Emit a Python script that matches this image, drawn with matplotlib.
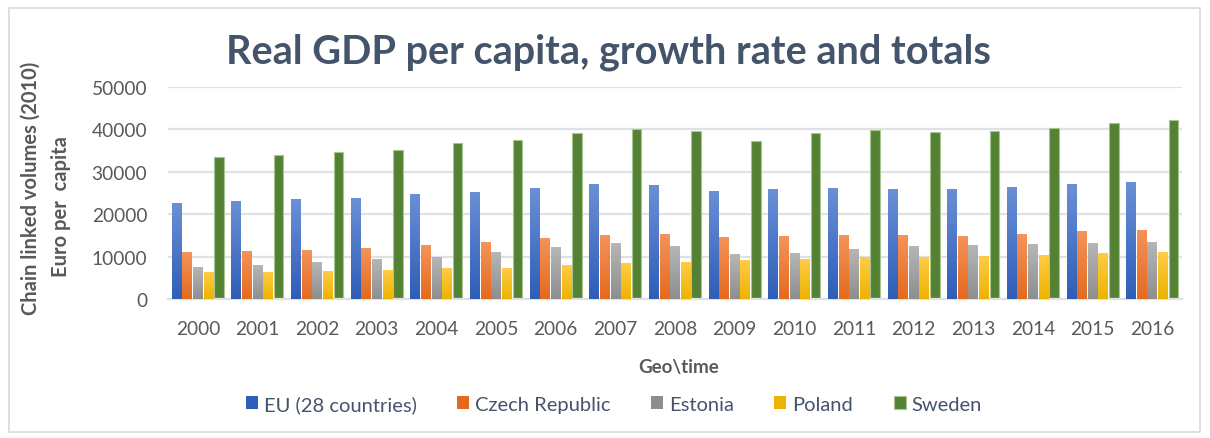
import matplotlib
matplotlib.use("Agg")
import matplotlib.pyplot as plt
import numpy as np
from matplotlib.patches import FancyBboxPatch
from matplotlib.colors import LinearSegmentedColormap

plt.rcParams['font.family'] = ['Lato', 'DejaVu Sans']

years = [str(y) for y in range(2000, 2017)]
eu = [22600, 23000, 23500, 23750, 24700, 25150, 26100, 27050, 26800, 25400,
      25850, 26100, 25850, 25850, 26350, 27050, 27500]
czech = [11050, 11300, 11500, 12000, 12700, 13400, 14350, 15050, 15300, 14600,
         14800, 15050, 15050, 14800, 15300, 16000, 16200]
estonia = [7500, 8000, 8700, 9400, 9850, 11050, 12250, 13150, 12450, 10600,
           10800, 11750, 12450, 12700, 12950, 13150, 13400]
poland = [6350, 6350, 6600, 6800, 7300, 7300, 8000, 8450, 8700, 9150,
          9400, 9850, 9850, 10100, 10350, 10800, 11050]
sweden = [33600, 34000, 34650, 35250, 36700, 37600, 39100, 40200, 39600, 37250,
          39200, 39900, 39500, 39600, 40300, 41550, 42250]

series = [
    ("EU (28 countries)", eu, "#6B8FD6", "#2E5EB8"),
    ("Czech Republic", czech, "#F4935B", "#E56A1C"),
    ("Estonia", estonia, "#B6B6B6", "#8E8E8E"),
    ("Poland", poland, "#FFCC45", "#EDB300"),
    ("Sweden", sweden, "#548235", "#548235"),
]

fig = plt.figure(figsize=(12.10, 4.39), dpi=100)
ax = fig.add_axes([168 / 1210, 1 - 300 / 439, (1182 - 168) / 1210, 212 / 439])

x = np.arange(len(years))
w = 0.16
step = 0.178
text_col = "#595959"

for i, (name, vals, top, bot) in enumerate(series):
    offs = (i - 2) * step
    bars = ax.bar(x + offs, vals, width=w, color=bot, label=name, zorder=2,
                  edgecolor="#A9C48F" if name == "Sweden" else "none",
                  linewidth=0.8)
    if top != bot:
        cmap = LinearSegmentedColormap.from_list(name, [bot, top])
        grad = np.linspace(1, 0, 100).reshape(-1, 1)
        for b in bars:
            bb = b.get_bbox()
            im = ax.imshow(grad, extent=[bb.x0, bb.x1, bb.y0, bb.y1], cmap=cmap,
                           aspect="auto", zorder=3, interpolation="bilinear")
            im.set_clip_path(b)

ax.set_xlim(-0.5, len(years) - 0.5)
ax.set_ylim(0, 50000)
ax.set_yticks(range(0, 50001, 10000))
ax.set_xticks(x)
ax.set_xticklabels(years)
ax.grid(axis="y", color="#DEE2E7", linewidth=1.6, zorder=0)
ax.set_axisbelow(True)
for s in ["top", "right", "left"]:
    ax.spines[s].set_visible(False)
ax.spines["bottom"].set_color("#DEE2E7")
ax.spines["bottom"].set_linewidth(1.6)
ax.tick_params(axis="both", length=0, labelsize=13.8, colors=text_col)
ax.tick_params(axis="y", pad=15)
ax.tick_params(axis="x", pad=15)

fig.text(0.503, 0.88, "Real GDP per capita, growth rate and totals",
         ha="center", va="center", fontsize=28.5, fontweight="bold", color="#44546A")
fig.text(31 / 1210, 1 - 188 / 439, "Chain linked volumes (2010)", rotation=90,
         ha="center", va="center", fontsize=14.5, fontweight="bold", color=text_col)
fig.text(61 / 1210, 1 - 207 / 439, "Euro per  capita", rotation=90,
         ha="center", va="center", fontsize=14.5, fontweight="bold", color=text_col)
fig.text(679 / 1210, 1 - 368 / 439, "Geo\\time", ha="center", va="center",
         fontsize=13.5, fontweight="bold", color=text_col)

leg = fig.legend(loc="center", bbox_to_anchor=(614 / 1210, 1 - 405 / 439), ncol=5,
                 frameon=False, fontsize=14.5, handlelength=0.6, handleheight=0.6,
                 handletextpad=0.3, columnspacing=2.0)
for t in leg.get_texts():
    t.set_color("#44546A")

border = FancyBboxPatch((9 / 1210, 6 / 439), 1191 / 1210, 424 / 439,
                        boxstyle="square,pad=0", transform=fig.transFigure,
                        fill=False, edgecolor="#D9D9D9", linewidth=1.2)
fig.patches.append(border)

fig.savefig("out.png", dpi=100)
